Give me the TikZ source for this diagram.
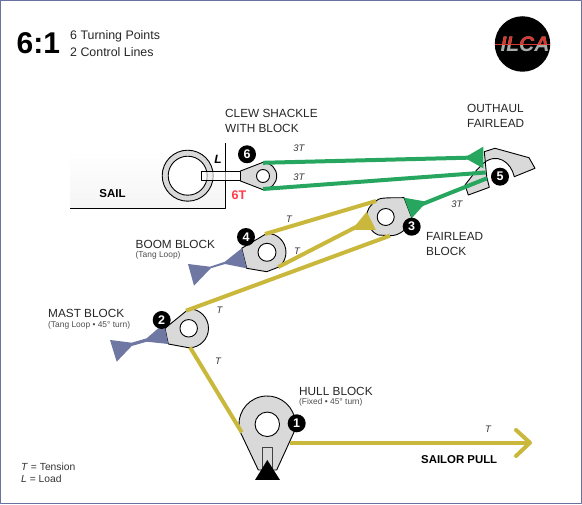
\documentclass[tikz,border=0pt]{standalone}
\usepackage{fontspec}
\setmainfont{Liberation Sans}
\begin{document}
\begin{tikzpicture}[x=1pt,y=-1pt,line join=round,
  blockshape/.style={draw=black,line width=0.9pt,fill=blockgray},
  hole/.style={circle,draw=black,line width=0.9pt,fill=white,inner sep=0pt},
  badge/.style={circle,fill=black,text=white,inner sep=0pt,minimum size=18pt,font=\fontsize{12.5}{12.5}\selectfont\bfseries},
  yrope/.style={draw=ropeyellow,line width=4pt},
  grope/.style={draw=ropegreen,line width=4pt},
  lbl/.style={inner sep=0pt,anchor=west,align=left,font=\fontsize{11.8}{15}\selectfont,text=black!85},
  sublbl/.style={inner sep=0pt,anchor=west,font=\fontsize{8.4}{9}\selectfont,text=black!70},
  tens/.style={inner sep=0pt,font=\fontsize{9.5}{9.5}\selectfont\itshape,text=black!80},
  tang/.style={fill=tangblue,draw=none}]
\definecolor{blockgray}{HTML}{D9D9D9}
\definecolor{ropeyellow}{HTML}{C9B83C}
\definecolor{ropegreen}{HTML}{27A65F}
\definecolor{tangblue}{HTML}{6F77A3}
\definecolor{framec}{HTML}{6A73A0}
\definecolor{redtxt}{HTML}{FF3B47}
\definecolor{logored}{HTML}{D8392F}
\definecolor{logogray}{HTML}{A9ADA9}
\useasboundingbox (0,0) rectangle (582,505);
\draw[framec,line width=1pt] (0.5,0.5) rectangle (581,503.5);
% title
\node[inner sep=0pt,anchor=west,font=\fontsize{30}{30}\selectfont\bfseries] (ratio) at (16.5,43.5) {6:1};
\node[lbl,font=\fontsize{12.4}{15}\selectfont] (sub1) at (70,36.7) {6 Turning Points};
\node[lbl,font=\fontsize{12.4}{15}\selectfont] (sub2) at (70,51.7) {2 Control Lines};
% logo
\node[circle,fill=black,minimum size=55.5pt,inner sep=0pt] (logo) at (522.5,44) {};
\draw[logored,line width=0.5pt] (logo.west) -- (logo.east);
\node[inner sep=0pt,font=\fontsize{21}{21}\selectfont\bfseries\itshape,text=logogray] (logotext) at (525,44.5) {ILCA};
\begin{scope}
 \clip (490,30) rectangle (552,44.7);
 \node[inner sep=0pt,font=\fontsize{21}{21}\selectfont\bfseries\itshape,text=logored] (logotextb) at (525,44.5) {ILCA};
\end{scope}
% sail
\shade[top color=white,bottom color=black!4] (70,150) rectangle (225,208);
\coordinate (sailtop) at (225.5,143);
\coordinate (sailcorner) at (225.5,208.5);
\coordinate (sailleft) at (70,208.5);
\draw[black,line width=0.9pt] (sailtop) -- (sailcorner) -- (sailleft);
\node[inner sep=0pt,font=\fontsize{11.5}{11.5}\selectfont\bfseries] (sail) at (112.5,193.5) {SAIL};
\node[circle,draw=black,line width=0.9pt,fill=blockgray,minimum size=51pt,inner sep=0pt] (ring) at (187.7,175.7) {};
\node[circle,draw=black,line width=0.9pt,fill=white,minimum size=39pt,inner sep=0pt] (ringin) at (187.7,175.7) {};
\node[inner sep=0pt,font=\fontsize{12}{12}\selectfont\bfseries\itshape] (lload) at (218,159) {L};
\node[inner sep=0pt,font=\fontsize{12.5}{12.5}\selectfont\bfseries,text=redtxt] (six) at (239,195) {6T};
% outhaul fairlead
\fill[blockgray,draw=black,line width=0.9pt] (484.3,151.7) -- (495,148.3) -- (529,157.7) -- (535,168.3) -- (514.3,176.7) .. controls (511,162) and (497,152) .. (483.3,163.3) -- (476.7,170) -- (465,185) -- (468.3,195) -- (489.3,187.3) -- (486.7,176.7) -- cycle;
% clew block
\fill[blockgray,draw=black,line width=0.9pt] (240.5,171) -- (263,162.3) arc[start angle=-90,end angle=90,radius=13.7] -- (240.5,181) -- cycle;
\node[hole,minimum size=13pt] (b6) at (263,176) {};
\draw[black,line width=0.9pt,fill=white,fill opacity=0.6] (201.5,171.5) rectangle (240.5,180.5);
\coordinate (g1a) at (263,162.8); \coordinate (g1b) at (472,157.6);
\coordinate (g2a) at (263,189);   \coordinate (g2b) at (485.7,172.5);
\coordinate (g3a) at (487,178.3); \coordinate (g3b) at (420,205);
\draw[grope] (g1a) -- (g1b);
\draw[grope] (g2a) -- (g2b);
\draw[grope] (g3a) -- (g3b);
\fill[ropegreen] (483.3,146.7) -- (464.3,157.7) -- (483.3,168.3) -- cycle;
% fairlead block
\draw[blockshape] (376,201) .. controls (379,198) and (382,197.7) .. (404,197.7) -- (411.7,217.7) .. controls (409,228) and (400,236) .. (390,235.7) -- (378.3,235) .. controls (371,232) and (366.7,225) .. (366.7,216.7) .. controls (366.7,210) and (370,205) .. (376,201) -- cycle;
\node[hole,minimum size=17pt] (b3) at (385.7,217) {};
\fill[ropegreen] (404,197.7) -- (426.7,201.7) -- (411.7,218.3) -- cycle;
\fill[ropeyellow] (366.7,211.7) -- (376,230) -- (351.7,230) -- cycle;
% boom block
\draw[blockshape] (241.7,248.3) -- (267,233.3) arc[start angle=-90,end angle=50,radius=19] -- (266.7,271.7) -- (246.7,268.3) -- cycle;
\node[hole,minimum size=18pt] (b4) at (267,252.3) {};
\fill[tang] (241.7,248.3) -- (246.7,268.3) -- (225,264) -- (210.7,268.3) -- (194,285.7) -- (188,264) -- (210,266.7) -- (225,261.7) -- cycle;
% mast block
\draw[blockshape] (165,328.3) -- (189,308.8) arc[start angle=-90,end angle=90,radius=19.5] -- (168.3,344) -- cycle;
\node[hole,minimum size=17.5pt] (b2) at (188.7,328.3) {};
\fill[tang] (165,328.3) -- (168.3,344) -- (146.7,341.7) -- (131.7,346) -- (116.7,361.7) -- (110,340) -- (131.7,342.7) -- (146.7,338.3) -- (158.3,328.3) -- cycle;
% hull block
\draw[blockshape] (239.8,431) arc[start angle=166,end angle=374,radius=28.2] -- (276.7,470) -- (258.3,470) -- cycle;
\node[hole,minimum size=24.5pt] (b1) at (267.3,424.3) {};
\draw[black!75,line width=0.9pt] (262.7,470) -- (262.7,447.7) -- (272.3,447.7) -- (272.3,470);
\fill[black] (267.3,460) -- (255,480) -- (280,480) -- cycle;
% yellow ropes
\coordinate (y1a) at (376,201);   \coordinate (y1b) at (265,234);
\coordinate (y2a) at (358,226);   \coordinate (y2b) at (278.3,267);
\coordinate (y3a) at (390,235.7); \coordinate (y3b) at (186,310.7);
\coordinate (y4a) at (190,347.3); \coordinate (y4b) at (241.7,432.3);
\coordinate (y5a) at (290,442.7); \coordinate (y5b) at (530,442.7);
\coordinate (ah1) at (516,430); \coordinate (ah2) at (516,456);
\draw[yrope] (y1a) -- (y1b);
\draw[yrope] (y2a) -- (y2b);
\draw[yrope] (y3a) -- (y3b);
\draw[yrope] (y4a) -- (y4b);
\draw[yrope] (y5a) -- (y5b);
\draw[yrope,line cap=round] (ah1) -- (y5b) -- (ah2);
% badges
\node[badge] (n6) at (247,154.3) {6};
\node[badge] (n5) at (500,176.7) {5};
\node[badge] (n3) at (411.7,226.7) {3};
\node[badge] (n4) at (246,237) {4};
\node[badge] (n2) at (161.7,320) {2};
\node[badge] (n1) at (296.7,423.3) {1};
% labels
\node[lbl] (clew) at (225,120.5) {CLEW SHACKLE\\WITH BLOCK};
\node[lbl] (out) at (467,115.5) {OUTHAUL\\FAIRLEAD};
\node[lbl] (fair) at (426,244) {FAIRLEAD\\BLOCK};
\node[lbl] (boom) at (135.5,244) {BOOM BLOCK};
\node[sublbl] (boomsub) at (135.5,255) {(Tang Loop)};
\node[lbl] (mast) at (48,313.5) {MAST BLOCK};
\node[sublbl] (mastsub) at (48,325) {(Tang Loop • 45° turn)};
\node[lbl] (hull) at (299,391) {HULL BLOCK};
\node[sublbl] (hullsub) at (299,402) {(Fixed • 45° turn)};
\node[inner sep=0pt,font=\fontsize{11.4}{11.4}\selectfont\bfseries,anchor=west] (pull) at (421,459.5) {SAILOR PULL};
\node[inner sep=0pt,anchor=west,align=left,font=\fontsize{10.3}{12}\selectfont,text=black!80] (legend) at (21,473) {\textit{T} = Tension\\\textit{L} = Load};
% tensions
\node[tens] (t1) at (299,148.5) {3T};
\node[tens] (t2) at (299,177) {3T};
\node[tens] (t3) at (457,204.5) {3T};
\node[tens] (t4) at (289,219) {T};
\node[tens] (t5) at (297,251) {T};
\node[tens] (t6) at (219.5,310) {T};
\node[tens] (t7) at (218,361.5) {T};
\node[tens] (t8) at (488,429) {T};
\end{tikzpicture}
\end{document}
